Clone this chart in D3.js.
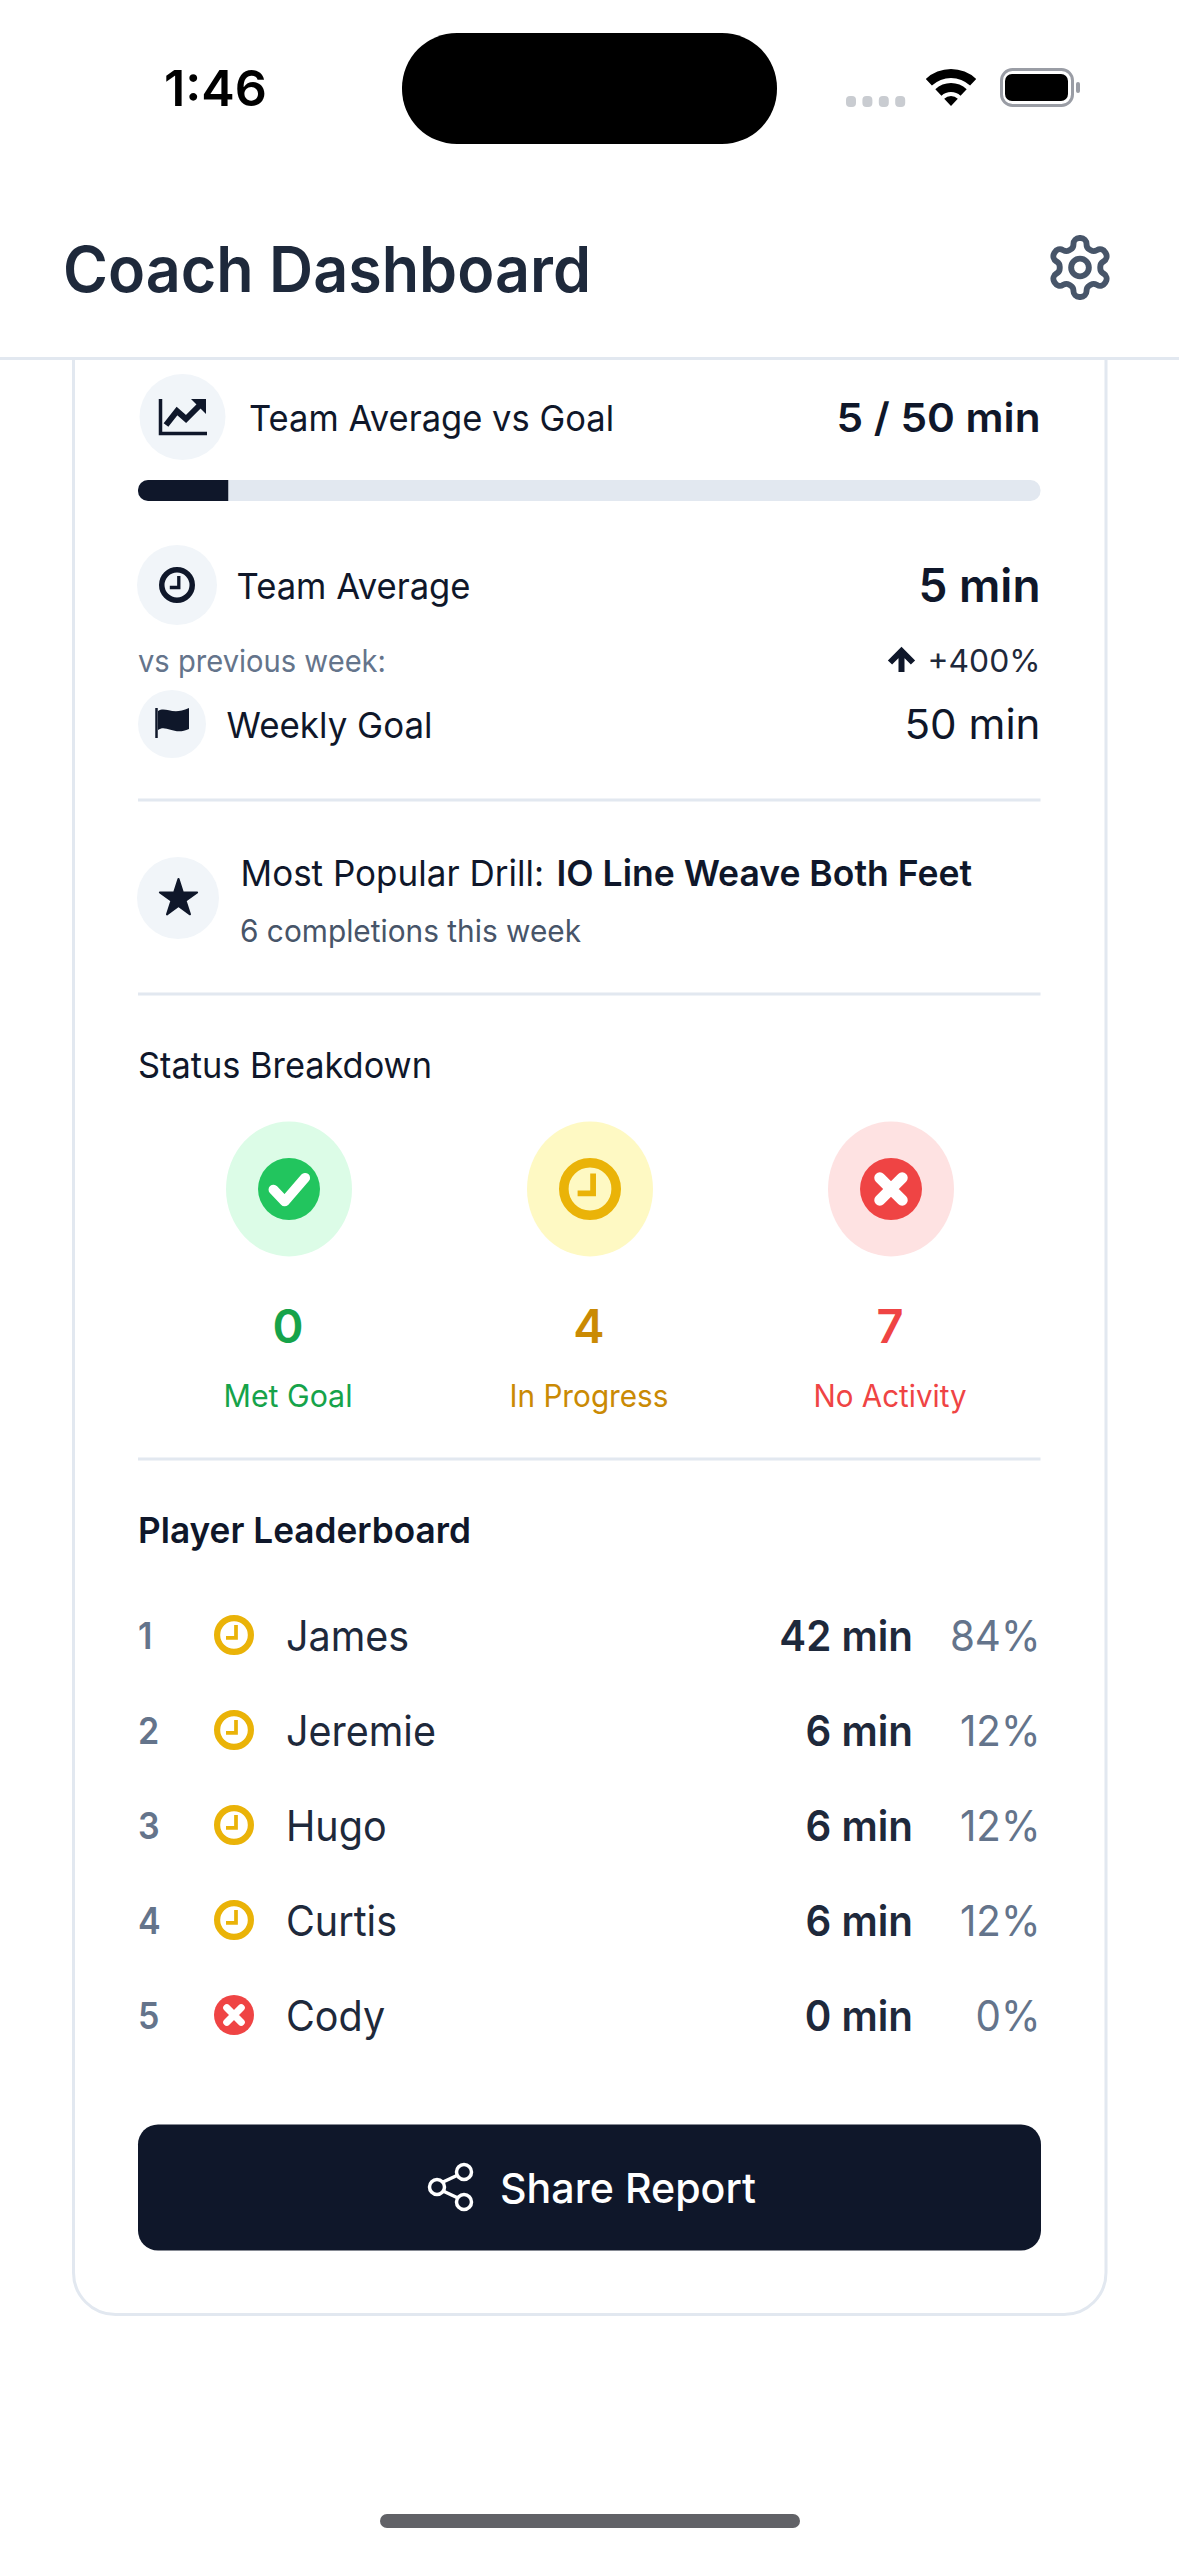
<!DOCTYPE html>
<html>
<head>
<meta charset="utf-8">
<script src="https://cdn.jsdelivr.net/npm/d3@7"></script>
<style>
html,body{margin:0;padding:0;background:#fff}
svg{display:block}
text{font-family:Inter,'Noto Sans',sans-serif}
</style>
</head>
<body>
<div id="chart"></div>
<script>
// values
const teamAverage = 5;
const weeklyGoal = 50;
const changePct = 400;
const drillName = 'IO Line Weave Both Feet';
const drillCount = 6;
const statusKeys = ['met', 'progress', 'none'];
const statusLabels = ['Met Goal', 'In Progress', 'No Activity'];
const statusCounts = [0, 4, 7];
const ranks = [1, 2, 3, 4, 5];
const playerNames = ['James', 'Jeremie', 'Hugo', 'Curtis', 'Cody'];
const playerMinutes = [42, 6, 6, 6, 0];
const playerPercents = [84, 12, 12, 12, 0];
const playerStatus = ['progress', 'progress', 'progress', 'progress', 'none'];

const W = 1179, H = 2556;
const left = 138, right = 1040.5;
const ink = '#0f172a', slate = '#1e293b', gray = '#64748b', gray2 = '#475569', line = '#e2e8f0', chip = '#f1f5f9';
const bgColor = {met: '#dcfce7', progress: '#fef9c3', none: '#fee2e2'};
const iconColor = {met: '#22c55e', progress: '#eab308', none: '#ef4444'};
const textColor = {met: '#16a34a', progress: '#ca8a04', none: '#ef4444'};

const svg = d3.select('#chart').append('svg')
    .attr('width', W).attr('height', H)
    .attr('viewBox', '0 0 ' + W + ' ' + H)
    .style('background', '#fff');

// o: size, weight, fill, anchor, w (target width in px) or k (squeeze factor)
function label(g, str, x, y, o) {
    const t = g.append('text')
        .attr('x', x).attr('y', y)
        .attr('fill', o.fill || ink)
        .attr('text-anchor', o.anchor || 'start')
        .style('font-size', o.size + 'px')
        .style('font-weight', o.weight || 400)
        .text(str);
    const w = o.w || t.node().getComputedTextLength() * (o.k || 0.92);
    t.attr('textLength', w).attr('lengthAdjust', 'spacingAndGlyphs');
    return t;
}

function clockIcon(g, x, y, r, sw, color) {
    const c = g.append('g').attr('transform', 'translate(' + x + ',' + y + ')');
    c.append('circle').attr('r', r - sw / 2).attr('fill', 'none').attr('stroke', color).attr('stroke-width', sw);
    c.append('path')
        .attr('d', 'M' + r * 0.1 + ' ' + (-r * 0.5) + 'V' + r * 0.14 + 'H' + (-r * 0.4))
        .attr('fill', 'none').attr('stroke', color).attr('stroke-width', sw * 0.6);
}

function crossIcon(g, x, y, r) {
    const c = g.append('g').attr('transform', 'translate(' + x + ',' + y + ')');
    c.append('circle').attr('r', r).attr('fill', iconColor.none);
    const a = r * 0.36;
    c.append('path').attr('d', 'M' + -a + ' ' + -a + 'L' + a + ' ' + a + 'M' + a + ' ' + -a + 'L' + -a + ' ' + a)
        .attr('stroke', '#fff').attr('stroke-width', r * 0.36).attr('stroke-linecap', 'round');
}

function checkIcon(g, x, y, r) {
    const c = g.append('g').attr('transform', 'translate(' + x + ',' + y + ')');
    c.append('circle').attr('r', r).attr('fill', iconColor.met);
    c.append('path').attr('d', 'M' + -r * 0.5 + ' ' + r * 0.02 + 'L' + -r * 0.14 + ' ' + r * 0.4 + 'L' + r * 0.52 + ' ' + -r * 0.36)
        .attr('fill', 'none').attr('stroke', '#fff').attr('stroke-width', r * 0.32).attr('stroke-linecap', 'round').attr('stroke-linejoin', 'round');
}

function statusIcon(g, key, x, y, r) {
    if (key === 'met') checkIcon(g, x, y, r);
    else if (key === 'none') crossIcon(g, x, y, r);
    else clockIcon(g, x, y, r, r * 0.31, iconColor.progress);
}

function chipCircle(g, x, y, r) {
    g.append('circle').attr('cx', x).attr('cy', y).attr('r', r).attr('fill', chip);
}

function divider(g, y) {
    g.append('rect').attr('x', left).attr('y', y - 1.5).attr('width', right - left).attr('height', 3).attr('fill', line);
}

// card, runs under the header
svg.append('rect').attr('x', 73.5).attr('y', 250).attr('width', 1032.5).attr('height', 2064.5)
    .attr('rx', 42).attr('fill', '#fff').attr('stroke', line).attr('stroke-width', 3);

// status bar + header
const bar = svg.append('g');
bar.append('rect').attr('width', W).attr('height', 357).attr('fill', '#fff');
bar.append('rect').attr('y', 357).attr('width', W).attr('height', 3).attr('fill', line);
label(bar, '1:46', 164, 106, {size: 50, weight: 600, fill: '#000', w: 103});
bar.append('rect').attr('x', 402).attr('y', 33).attr('width', 375).attr('height', 111).attr('rx', 55).attr('fill', '#000');
bar.selectAll('.dot').data(d3.range(4)).enter().append('rect').attr('class', 'dot')
    .attr('x', d => 846 + d * 16.4).attr('y', 96).attr('width', 10).attr('height', 11).attr('rx', 4).attr('fill', '#c9ccd1');
const wifi = bar.append('g').attr('transform', 'translate(951,106)');
[[0, 10], [14, 23], [28, 37]].forEach(function (b) {
    wifi.append('path').attr('fill', '#000')
        .attr('d', d3.arc().innerRadius(b[0]).outerRadius(b[1]).startAngle(-0.75).endAngle(0.75)());
});
bar.append('rect').attr('x', 1001.5).attr('y', 69.5).attr('width', 71).attr('height', 36).attr('rx', 11)
    .attr('fill', 'none').attr('stroke', '#9a9da5').attr('stroke-width', 3);
bar.append('rect').attr('x', 1005).attr('y', 74).attr('width', 63).attr('height', 27).attr('rx', 7).attr('fill', '#000');
bar.append('rect').attr('x', 1076).attr('y', 82).attr('width', 4).attr('height', 11).attr('rx', 2).attr('fill', '#9a9da5');
label(bar, 'Coach Dashboard', 63, 292, {size: 63, weight: 600, fill: slate, w: 528});
const gear = bar.append('g').attr('transform', 'translate(1044.6,232.1) scale(2.95)')
    .attr('fill', 'none').attr('stroke', gray2).attr('stroke-width', 2).attr('stroke-linecap', 'round').attr('stroke-linejoin', 'round');
gear.append('path').attr('d', 'M12.22 2h-.44a2 2 0 0 0-2 2v.18a2 2 0 0 1-1 1.73l-.43.25a2 2 0 0 1-2 0l-.15-.08a2 2 0 0 0-2.73.73l-.22.38a2 2 0 0 0 .73 2.73l.15.1a2 2 0 0 1 1 1.72v.51a2 2 0 0 1-1 1.74l-.15.09a2 2 0 0 0-.73 2.73l.22.38a2 2 0 0 0 2.73.73l.15-.08a2 2 0 0 1 2 0l.43.25a2 2 0 0 1 1 1.73V20a2 2 0 0 0 2 2h.44a2 2 0 0 0 2-2v-.18a2 2 0 0 1 1-1.73l.43-.25a2 2 0 0 1 2 0l.15.08a2 2 0 0 0 2.73-.73l.22-.39a2 2 0 0 0-.73-2.73l-.15-.08a2 2 0 0 1-1-1.74v-.5a2 2 0 0 1 1-1.74l.15-.09a2 2 0 0 0 .73-2.73l-.22-.38a2 2 0 0 0-2.73-.73l-.15.08a2 2 0 0 1-2 0l-.43-.25a2 2 0 0 1-1-1.73V4a2 2 0 0 0-2-2z');
gear.append('circle').attr('cx', 12).attr('cy', 12).attr('r', 3);

const main = svg.append('g');

// team average vs goal
chipCircle(main, 182.5, 417, 43);
const trend = main.append('g').attr('fill', 'none').attr('stroke', ink);
trend.append('path').attr('d', 'M160.5 399V433.5H207').attr('stroke-width', 3.5);
trend.append('path').attr('d', 'M166 425L177 411L186 419L201 404').attr('stroke-width', 6);
main.append('path').attr('d', 'M191 399H206V414Z').attr('fill', ink);
label(main, 'Team Average vs Goal', 249, 431, {size: 36, w: 365});
label(main, teamAverage + ' / ' + weeklyGoal + ' min', right, 432, {size: 40, weight: 600, anchor: 'end', w: 204});

// progress bar
const xGoal = d3.scaleLinear().domain([0, weeklyGoal]).range([left, right]);
const barY = 480, barH = 21;
main.append('rect').attr('x', xGoal(0)).attr('y', barY).attr('width', xGoal(weeklyGoal) - xGoal(0)).attr('height', barH)
    .attr('rx', 10).attr('fill', line);
main.append('path').attr('fill', ink)
    .attr('d', 'M' + xGoal(teamAverage) + ' ' + barY + 'H' + (xGoal(0) + 10) + 'a10 10 0 0 0 -10 10v1a10 10 0 0 0 10 10H' + xGoal(teamAverage) + 'Z');

// team average
chipCircle(main, 177, 585, 40);
clockIcon(main, 177, 585, 18, 5.5, ink);
label(main, 'Team Average', 236.5, 599, {size: 36, w: 234});
label(main, teamAverage + ' min', right, 602, {size: 46, weight: 600, anchor: 'end', w: 122});
label(main, 'vs previous week:', left, 672, {size: 31, fill: gray, w: 248});
main.append('path').attr('d', 'M901.5 672V652M890 662.5L901.5 651L913 662.5')
    .attr('fill', 'none').attr('stroke', ink).attr('stroke-width', 6);
label(main, '+' + changePct + '%', right, 672, {size: 31, fill: slate, anchor: 'end', w: 113});

// weekly goal
chipCircle(main, 172, 724, 34);
main.append('path').attr('d', 'M156.5 708V738').attr('stroke', ink).attr('stroke-width', 2.5);
main.append('path').attr('fill', ink)
    .attr('d', 'M158 711C166 706 172 716 189 708V729C174 736 166 724 158 730Z');
label(main, 'Weekly Goal', 226.5, 738, {size: 36, w: 206});
label(main, weeklyGoal + ' min', right, 739, {size: 41, anchor: 'end', w: 136});
divider(main, 800);

// most popular drill
chipCircle(main, 178, 898, 41);
main.append('path').attr('transform', 'translate(178.5,898.5)').attr('fill', ink)
    .attr('stroke', ink).attr('stroke-width', 2).attr('stroke-linejoin', 'round')
    .attr('d', d3.symbol(d3.symbolStar, 430)());
label(main, 'Most Popular Drill:', 240.5, 886, {size: 36, w: 303.5});
label(main, drillName, 556.5, 886, {size: 36, weight: 600, w: 415.5});
label(main, drillCount + ' completions this week', 240, 942, {size: 31, fill: gray2, w: 341});
divider(main, 994);

// status breakdown
label(main, 'Status Breakdown', left, 1077.5, {size: 36, w: 294});
const xStatus = d3.scalePoint().domain(statusKeys).range([289, 891]);
const statusG = main.selectAll('.status').data(statusKeys).enter().append('g').attr('class', 'status');
statusG.append('ellipse')
    .attr('cx', d => xStatus(d)).attr('cy', 1189).attr('rx', 63).attr('ry', 67.5)
    .attr('fill', d => bgColor[d]);
statusG.each(function (d, i) {
    const g = d3.select(this);
    statusIcon(g, d, xStatus(d), 1189, 31);
    label(g, String(statusCounts[i]), xStatus(d) - 1, 1343, {size: 47, weight: 600, fill: textColor[d], anchor: 'middle', k: 1});
    label(g, statusLabels[i], xStatus(d) - 1, 1407, {size: 31, fill: textColor[d], anchor: 'middle', w: [129, 159, 153][i]});
});
divider(main, 1459);

// leaderboard
label(main, 'Player Leaderboard', left, 1542.5, {size: 36, weight: 600, w: 333});
const yRow = d3.scalePoint().domain(ranks).range([1635, 2015]);
const rows = main.selectAll('.row').data(ranks).enter().append('g').attr('class', 'row');
rows.each(function (d, i) {
    const g = d3.select(this), y = yRow(d);
    label(g, String(d), left, y + 14, {size: 37, weight: 600, fill: gray});
    statusIcon(g, playerStatus[i], 234, y, 20);
    label(g, playerNames[i], 286, y + 16, {size: 42, fill: slate, k: 0.94});
    label(g, playerMinutes[i] + ' min', 913, y + 16, {size: 42, weight: 600, fill: slate, anchor: 'end', k: 0.96});
    label(g, playerPercents[i] + '%', right, y + 16, {size: 42, fill: gray, anchor: 'end', k: 0.96});
});

// share button
main.append('rect').attr('x', 138).attr('y', 2124.5).attr('width', 903).attr('height', 126).attr('rx', 20).attr('fill', ink);
const share = main.append('g').attr('fill', 'none').attr('stroke', '#fff').attr('stroke-width', 3.5);
share.append('path').attr('d', 'M443 2182L458 2175M443 2191L458 2198');
share.append('circle').attr('cx', 437).attr('cy', 2187).attr('r', 7.5);
share.append('circle').attr('cx', 464).attr('cy', 2172).attr('r', 7.5);
share.append('circle').attr('cx', 464).attr('cy', 2202).attr('r', 7.5);
label(main, 'Share Report', 500, 2203, {size: 41, weight: 500, fill: '#fff', w: 256});

// home indicator
svg.append('rect').attr('x', 380).attr('y', 2514).attr('width', 420).attr('height', 14).attr('rx', 7).attr('fill', '#616267');
</script>
</body>
</html>
